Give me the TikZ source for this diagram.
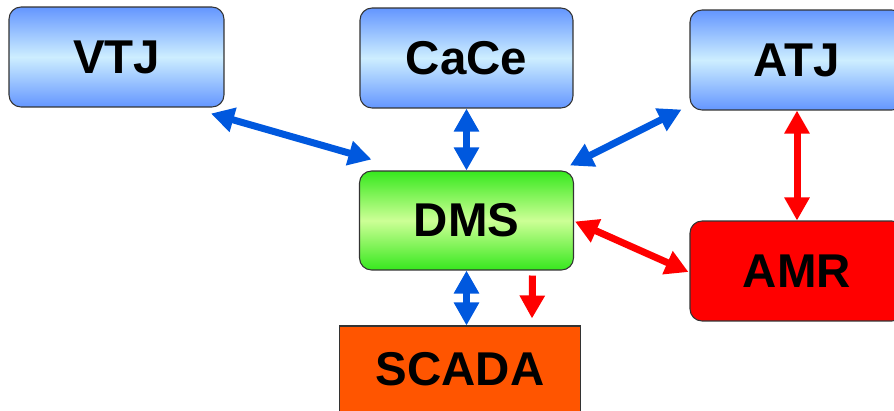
\documentclass[tikz,border=0pt]{standalone}
\usepackage{fontspec}
\setmainfont{Liberation Sans}
\usepackage{xcolor}
\usepackage{tikz}
\usetikzlibrary{arrows.meta, positioning, calc}

\definecolor{boxblue}{RGB}{100,150,255}
\definecolor{boxlight}{RGB}{205,238,255}
\definecolor{boxgreen}{RGB}{55,232,30}
\definecolor{greenlight}{RGB}{205,255,150}
\definecolor{arrowblue}{RGB}{0,88,222}
\definecolor{scadaorange}{RGB}{255,85,0}

\begin{document}
\begin{tikzpicture}[
    x=0.02cm, y=-0.02cm,
    box/.style={draw=black!80, line width=0.6pt, rounded corners=0.24cm, minimum width=4.3cm, minimum height=2cm, align=center, font=\fontsize{27}{32}\selectfont\bfseries},
    bluebox/.style={box, top color=boxblue, bottom color=boxblue, middle color=boxlight},
    barrow/.style={{Triangle[length=0.46cm, width=0.48cm]}-{Triangle[length=0.46cm, width=0.48cm]}, line width=0.14cm, arrowblue},
    rarrow/.style={{Triangle[length=0.46cm, width=0.48cm]}-{Triangle[length=0.46cm, width=0.48cm]}, line width=0.14cm, red}
]
    \useasboundingbox (0,0) rectangle (894,410);
    \clip (0,0) rectangle (894,410);
    \node[bluebox] at (116.5,57) (vtj) {VTJ};
    \node[bluebox, minimum width=4.26cm] at (466.5,58) (cace) {CaCe};
    \node[bluebox, minimum width=4.28cm] at (797,60) (atj) {ATJ};
    \node[box, minimum width=4.28cm, minimum height=1.98cm, top color=boxgreen, bottom color=boxgreen, middle color=greenlight] at (466.5,220.5) (dms) {DMS};
    \node[box, fill=red, minimum width=4.28cm] at (797,271) (amr) {AMR};
    \node[box, rounded corners=0pt, fill=scadaorange, minimum width=4.82cm, minimum height=1.72cm] at (460,369) (scada) {SCADA};
    % blue links
    \draw[barrow] ([shift={(-13.5,6)}]vtj.south east) -- ([shift={(12.5,-11)}]dms.north west);
    \draw[barrow] (cace.south) -- (dms.north);
    \draw[barrow] ([shift={(-8,-1)}]atj.south west) -- ([shift={(-4,-5)}]dms.north east);
    \draw[barrow] (dms.south) -- (dms.south |- scada.north);
    % red links
    \draw[rarrow] (atj.south) -- (amr.north);
    \draw[rarrow] ([shift={(1,1)}]dms.east) -- ([shift={(-1,1)}]amr.west);
    \draw[-{Triangle[length=0.46cm, width=0.48cm]}, line width=0.14cm, red] ([shift={(66,5)}]dms.south) -- ([shift={(72,-7)}]scada.north);
\end{tikzpicture}
\end{document}
